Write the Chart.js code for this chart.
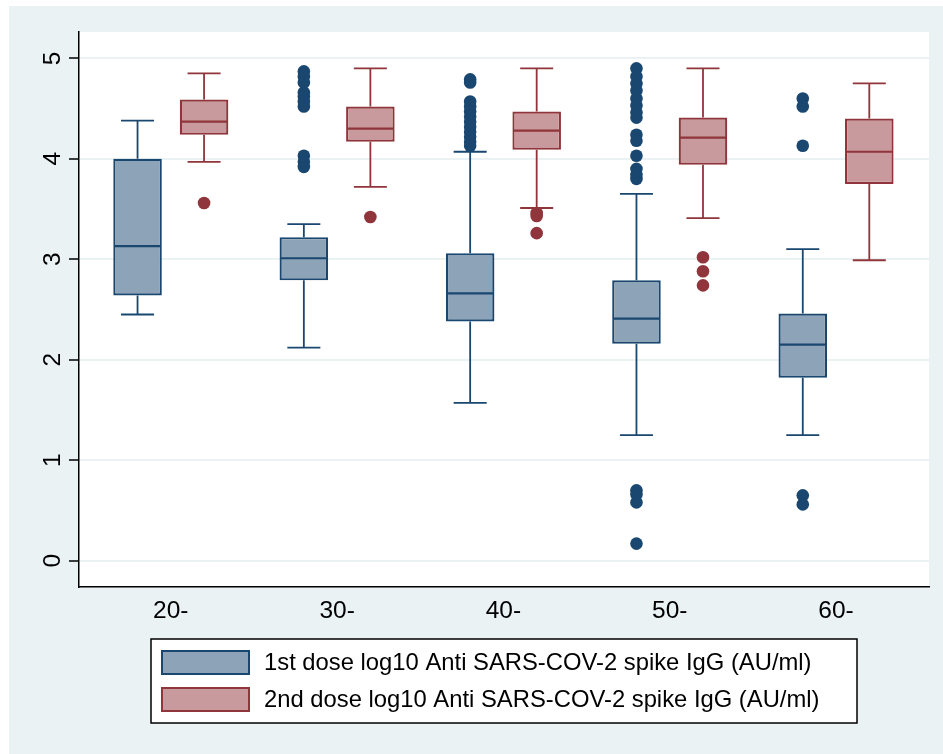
<!DOCTYPE html>
<html>
<head>
<meta charset="utf-8">
<script src="https://cdn.jsdelivr.net/npm/chart.js@4.4.0/dist/chart.umd.min.js"></script>
<style>
  html, body { margin: 0; padding: 0; background: #fff; }
  #wrap { width: 943px; height: 754px; }
</style>
</head>
<body>
<div id="wrap"><canvas id="myChart"></canvas></div>
<script>
// age groups on the x axis
const groups = ['20-', '30-', '40-', '50-', '60-'];
const yTicks = [0, 1, 2, 3, 4, 5];
const seriesLabels = [
  '1st dose log10 Anti SARS-COV-2 spike IgG (AU/ml)',
  '2nd dose log10 Anti SARS-COV-2 spike IgG (AU/ml)'
];

// 1st dose box summaries
const dose1Low = [2.45, 2.12, 1.57, 1.25, 1.25];
const dose1Q1 = [2.64, 2.79, 2.38, 2.16, 1.82];
const dose1Median = [3.13, 3.01, 2.66, 2.41, 2.15];
const dose1Q3 = [4.00, 3.22, 3.06, 2.79, 2.46];
const dose1High = [4.38, 3.35, 4.07, 3.65, 3.10];
const dose1Outliers = [
  [],
  [4.87, 4.82, 4.76, 4.66, 4.62, 4.57, 4.52, 4.03, 3.97, 3.92],
  [4.79, 4.76, 4.57, 4.52, 4.47, 4.42, 4.37, 4.32, 4.27, 4.22, 4.17, 4.13],
  [4.90, 4.82, 4.75, 4.68, 4.60, 4.53, 4.46, 4.41, 4.24, 4.18, 4.03, 3.90, 3.84, 3.80, 0.70, 0.66, 0.58, 0.17],
  [4.60, 4.52, 4.13, 0.65, 0.56]
];

// 2nd dose box summaries
const dose2Low = [3.97, 3.72, 3.51, 3.41, 2.99];
const dose2Q1 = [4.24, 4.17, 4.09, 3.94, 3.75];
const dose2Median = [4.37, 4.30, 4.28, 4.21, 4.07];
const dose2Q3 = [4.59, 4.52, 4.47, 4.41, 4.40];
const dose2High = [4.85, 4.90, 4.90, 4.90, 4.75];
const dose2Outliers = [
  [3.56],
  [3.42],
  [3.46, 3.43, 3.26],
  [3.02, 2.88, 2.74],
  []
];

const NAVY = '#1a476f', NAVY_FILL = '#8da3b7';
const MAROON = '#90353b', MAROON_FILL = '#c89a9d';
const BG = '#eaf2f3';
const FONT = '"Liberation Sans", Arial, sans-serif';
const CAT_PCT = 0.8;
const BAR_PCT = 0.73;
const SHIFT = CAT_PCT / 4; // where each box of a pair sits, in x units

const boxData = (q1, q3) => groups.map((g, i) => ({ x: i + 1, y: [q1[i], q3[i]] }));
const outlierData = (list, side) => {
  const pts = [];
  list.forEach((vals, i) => vals.forEach(v => pts.push({ x: i + 1 + side * SHIFT, y: v })));
  return pts;
};

const bgPlugin = {
  id: 'bg',
  beforeDraw(chart) {
    const { ctx, chartArea: a } = chart;
    ctx.save();
    ctx.fillStyle = '#fff';
    ctx.fillRect(0, 0, chart.width, chart.height);
    ctx.fillStyle = BG;
    ctx.fillRect(9, 6, chart.width - 9, chart.height - 6);
    ctx.fillStyle = '#fff';
    ctx.fillRect(a.left, a.top, a.right - a.left, a.bottom - a.top);
    ctx.restore();
  }
};

// whiskers + median on top of each floating bar
const whiskerPlugin = {
  id: 'whiskers',
  afterDatasetDraw(chart, args) {
    const ds = chart.data.datasets[args.index];
    if (!ds.stats) return;
    const y = chart.scales.y;
    const ctx = chart.ctx;
    const s = ds.stats;
    ctx.save();
    ctx.strokeStyle = ds.borderColor;
    args.meta.data.forEach((bar, i) => {
      const { x, width } = bar.getProps(['x', 'width'], true);
      const cap = width * 0.34;
      const yLow = y.getPixelForValue(s.low[i]);
      const yQ1 = y.getPixelForValue(s.q1[i]);
      const yMed = y.getPixelForValue(s.median[i]);
      const yQ3 = y.getPixelForValue(s.q3[i]);
      const yHigh = y.getPixelForValue(s.high[i]);
      ctx.lineWidth = 1.8;
      ctx.beginPath();
      ctx.moveTo(x, yQ3); ctx.lineTo(x, yHigh);
      ctx.moveTo(x - cap, yHigh); ctx.lineTo(x + cap, yHigh);
      ctx.moveTo(x, yQ1); ctx.lineTo(x, yLow);
      ctx.moveTo(x - cap, yLow); ctx.lineTo(x + cap, yLow);
      ctx.stroke();
      ctx.lineWidth = 2.2;
      ctx.beginPath();
      ctx.moveTo(x - width / 2 + 1, yMed); ctx.lineTo(x + width / 2 - 1, yMed);
      ctx.stroke();
    });
    ctx.restore();
  }
};

// boxed legend under the plot
const legendPlugin = {
  id: 'boxLegend',
  afterDraw(chart) {
    const { ctx, chartArea: a } = chart;
    const w = 706, h = 84;
    const left = (a.left + a.right) / 2 - w / 2;
    const top = 639;
    ctx.save();
    ctx.fillStyle = '#fff';
    ctx.fillRect(left, top, w, h);
    ctx.strokeStyle = '#000';
    ctx.lineWidth = 1.5;
    ctx.strokeRect(left, top, w, h);
    const items = chart.data.datasets.filter(d => d.stats);
    items.forEach((d, k) => {
      const sy = top + 11 + k * 37;
      ctx.fillStyle = d.backgroundColor;
      ctx.fillRect(left + 10, sy, 89, 25);
      ctx.strokeStyle = d.borderColor;
      ctx.lineWidth = 2;
      ctx.strokeRect(left + 11, sy + 1, 87, 23);
      ctx.fillStyle = '#000';
      ctx.font = '23.8px ' + FONT;
      ctx.textBaseline = 'middle';
      ctx.textAlign = 'left';
      ctx.fillText(d.label, left + 113, sy + 13);
    });
    ctx.restore();
  }
};

const ctx = document.getElementById('myChart').getContext('2d');
const myChart = new Chart(ctx, {
  type: 'bar',
  data: {
    datasets: [
      {
        label: seriesLabels[0],
        data: boxData(dose1Q1, dose1Q3),
        stats: { low: dose1Low, q1: dose1Q1, median: dose1Median, q3: dose1Q3, high: dose1High },
        backgroundColor: NAVY_FILL,
        borderColor: NAVY,
        borderWidth: 2.2,
        borderSkipped: false,
        categoryPercentage: CAT_PCT,
        barPercentage: BAR_PCT
      },
      {
        label: seriesLabels[1],
        data: boxData(dose2Q1, dose2Q3),
        stats: { low: dose2Low, q1: dose2Q1, median: dose2Median, q3: dose2Q3, high: dose2High },
        backgroundColor: MAROON_FILL,
        borderColor: MAROON,
        borderWidth: 2.2,
        borderSkipped: false,
        categoryPercentage: CAT_PCT,
        barPercentage: BAR_PCT
      },
      {
        type: 'scatter',
        label: 'dose1 outliers',
        data: outlierData(dose1Outliers, -1),
        backgroundColor: NAVY,
        borderWidth: 0,
        pointRadius: 6.3
      },
      {
        type: 'scatter',
        label: 'dose2 outliers',
        data: outlierData(dose2Outliers, 1),
        backgroundColor: MAROON,
        borderWidth: 0,
        pointRadius: 6.3
      }
    ]
  },
  options: {
    responsive: true,
    maintainAspectRatio: false,
    animation: false,
    layout: { padding: { left: 9, top: 32, right: 14, bottom: 117 } },
    plugins: { legend: { display: false }, tooltip: { enabled: false } },
    scales: {
      x: {
        type: 'linear',
        offset: false,
        min: 0.448,
        max: 5.559,
        afterBuildTicks: scale => { scale.ticks = groups.map((g, i) => ({ value: i + 1 })); },
        afterFit: scale => { scale.height = 50; },
        grid: { display: false, drawTicks: false },
        border: { color: '#000', width: 1.5 },
        ticks: {
          padding: 10,
          color: '#000',
          font: { family: FONT, size: 24.5 },
          maxRotation: 0,
          callback: v => groups[v - 1]
        }
      },
      y: {
        min: -0.262,
        max: 5.262,
        afterBuildTicks: scale => { scale.ticks = yTicks.map(v => ({ value: v })); },
        afterFit: scale => { scale.width = 70; },
        grid: { color: BG, lineWidth: 2, tickColor: '#000', tickLength: 10, tickWidth: 1.5 },
        border: { color: '#000', width: 1.5 },
        ticks: {
          padding: 9,
          color: '#000',
          font: { family: FONT, size: 24.5 },
          minRotation: 90,
          maxRotation: 90,
          crossAlign: 'center'
        }
      }
    }
  },
  plugins: [bgPlugin, whiskerPlugin, legendPlugin]
});
</script>
</body>
</html>
